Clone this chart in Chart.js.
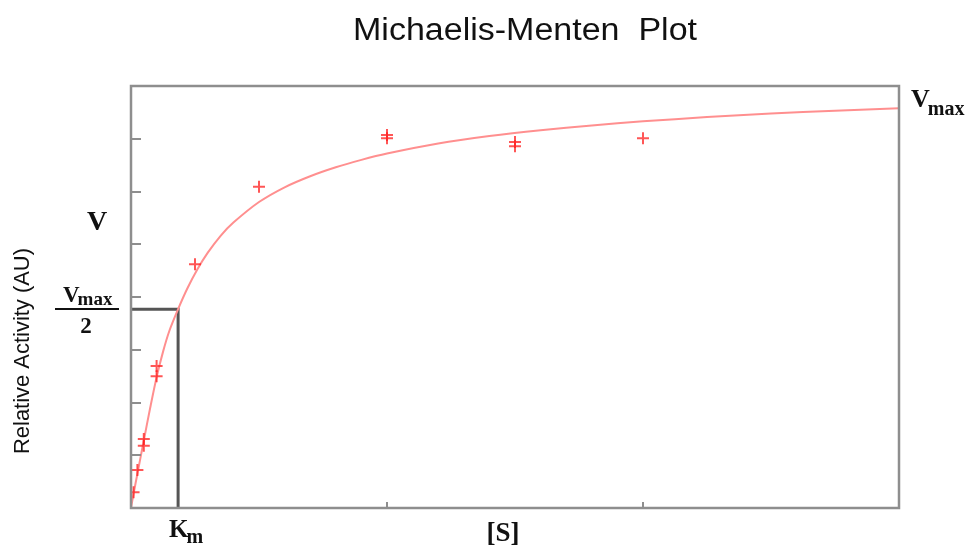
<!DOCTYPE html>
<html lang="en">
<head>
    <meta charset="utf-8">
    <title>Michaelis-Menten Plot</title>
    <script src="https://cdn.jsdelivr.net/npm/chart.js"></script>
    <style>
        body {
            margin: 0;
            background: #fff;
        }
        .wrap {
            width: 967px;
            height: 550px;
            position: relative;
        }
    </style>
</head>
<body>
    <div class="wrap">
        <canvas id="mmChart"></canvas>
    </div>

    <script>
        // fitted curve ([S] vs V)
        const curveS = [0, 0.1, 0.25, 0.5, 0.75, 1.0, 1.25, 1.5, 1.84, 2.2, 2.6, 3.0, 3.5, 4, 5, 6, 7, 8, 9, 10, 12, 14, 16, 18, 20, 22.5, 25, 27.5, 30];
        const curveV = [0, 0.27, 0.65, 1.28, 1.90, 2.48, 2.96, 3.36, 3.77, 4.16, 4.53, 4.84, 5.16, 5.41, 5.80, 6.08, 6.29, 6.46, 6.60, 6.72, 6.91, 7.05, 7.16, 7.25, 7.33, 7.41, 7.48, 7.53, 7.58];

        // measured points (replicates)
        const pointS = [0.1, 0.25, 0.5, 0.5, 1, 1, 2.5, 5, 10, 10, 15, 15, 20];
        const pointV = [0.30, 0.72, 1.31, 1.18, 2.69, 2.50, 4.62, 6.09, 7.07, 7.01, 6.94, 6.86, 7.01];

        // Km / Vmax/2 guide
        const Km = 1.84;
        const halfVmax = 3.77;

        const xTicks = [10, 20];
        const yTicks = [1, 2, 3, 4, 5, 6, 7];

        const frameColor = '#8e8e8e';
        const serif = '"Liberation Serif", "DejaVu Serif", serif';
        const sans = '"Liberation Sans", Arial, sans-serif';

        function subLabel(ctx, x, y, main, sub, size, subSize, drop) {
            ctx.font = 'bold ' + size + 'px ' + serif;
            ctx.textBaseline = 'alphabetic';
            ctx.textAlign = 'left';
            ctx.fillText(main, x, y);
            const w = ctx.measureText(main).width;
            ctx.font = 'bold ' + subSize + 'px ' + serif;
            ctx.fillText(sub, x + w - 2, y + drop);
        }

        // draws text centred at (0,0) stretched to a given width
        function fitText(ctx, text, width) {
            const w = ctx.measureText(text).width;
            ctx.save();
            ctx.scale(width / w, 1);
            ctx.fillText(text, 0, 0);
            ctx.restore();
        }

        const framePlugin = {
            id: 'frame',
            afterDraw(chart) {
                const ctx = chart.ctx;
                const a = chart.chartArea;
                const xs = chart.scales.x;
                const ys = chart.scales.y;
                ctx.save();

                // box
                ctx.strokeStyle = frameColor;
                ctx.lineWidth = 2.5;
                ctx.strokeRect(a.left, a.top, a.right - a.left, a.bottom - a.top);

                // inner ticks
                ctx.lineWidth = 2;
                yTicks.forEach(v => {
                    const py = Math.round(ys.getPixelForValue(v));
                    ctx.beginPath();
                    ctx.moveTo(a.left, py);
                    ctx.lineTo(a.left + 10, py);
                    ctx.stroke();
                });
                xTicks.forEach(v => {
                    const px = Math.round(xs.getPixelForValue(v));
                    ctx.beginPath();
                    ctx.moveTo(px, a.bottom);
                    ctx.lineTo(px, a.bottom - 6);
                    ctx.stroke();
                });

                ctx.fillStyle = '#111';
                ctx.textAlign = 'center';
                ctx.textBaseline = 'middle';

                // title
                ctx.save();
                ctx.translate(525, 31);
                ctx.font = '31px ' + sans;
                fitText(ctx, 'Michaelis-Menten  Plot', 344);
                ctx.restore();

                // y axis title
                ctx.save();
                ctx.translate(23, 351);
                ctx.rotate(-Math.PI / 2);
                ctx.font = '22px ' + sans;
                fitText(ctx, 'Relative Activity (AU)', 206);
                ctx.restore();

                // V
                ctx.font = 'bold 28px ' + serif;
                ctx.fillText('V', 97, 223);

                // Vmax / 2
                const hy = Math.round(ys.getPixelForValue(halfVmax));
                subLabel(ctx, 63, 302, 'V', 'max', 23, 19, 3);
                ctx.fillRect(55, hy - 1, 64, 2);
                ctx.font = 'bold 23px ' + serif;
                ctx.textAlign = 'center';
                ctx.fillText('2', 86, hy + 24);

                // Vmax right
                subLabel(ctx, 911, 107, 'V', 'max', 26, 20, 8);

                // Km
                const kx = xs.getPixelForValue(Km);
                subLabel(ctx, kx - 9, 537, 'K', 'm', 25, 20, 6);

                // [S]
                ctx.font = 'bold 27px ' + serif;
                ctx.textAlign = 'center';
                ctx.fillText('[S]', 503, 541);

                ctx.restore();
            }
        };

        const ctx = document.getElementById('mmChart').getContext('2d');
        new Chart(ctx, {
            data: {
                datasets: [
                    {
                        type: 'line',
                        label: 'Km guide',
                        data: [{ x: 0, y: halfVmax }, { x: Km, y: halfVmax }, { x: Km, y: 0 }],
                        borderColor: '#555',
                        borderWidth: 3,
                        pointRadius: 0,
                        tension: 0,
                        order: 3
                    },
                    {
                        type: 'line',
                        label: 'Fit',
                        data: curveS.map((s, i) => ({ x: s, y: curveV[i] })),
                        borderColor: '#ff8f8f',
                        borderWidth: 2,
                        pointRadius: 0,
                        tension: 0.3,
                        order: 2
                    },
                    {
                        type: 'scatter',
                        label: 'Data',
                        data: pointS.map((s, i) => ({ x: s, y: pointV[i] })),
                        pointStyle: 'cross',
                        pointRadius: 6,
                        borderColor: 'rgba(255, 30, 30, 0.75)',
                        borderWidth: 2,
                        order: 1
                    }
                ]
            },
            options: {
                responsive: true,
                maintainAspectRatio: false,
                animation: false,
                layout: {
                    padding: { left: 131, right: 68, top: 86, bottom: 42 }
                },
                plugins: {
                    legend: { display: false },
                    tooltip: { enabled: false }
                },
                scales: {
                    x: { type: 'linear', min: 0, max: 30, display: false },
                    y: { type: 'linear', min: 0, max: 8, display: false }
                }
            },
            plugins: [framePlugin]
        });
    </script>
</body>
</html>
